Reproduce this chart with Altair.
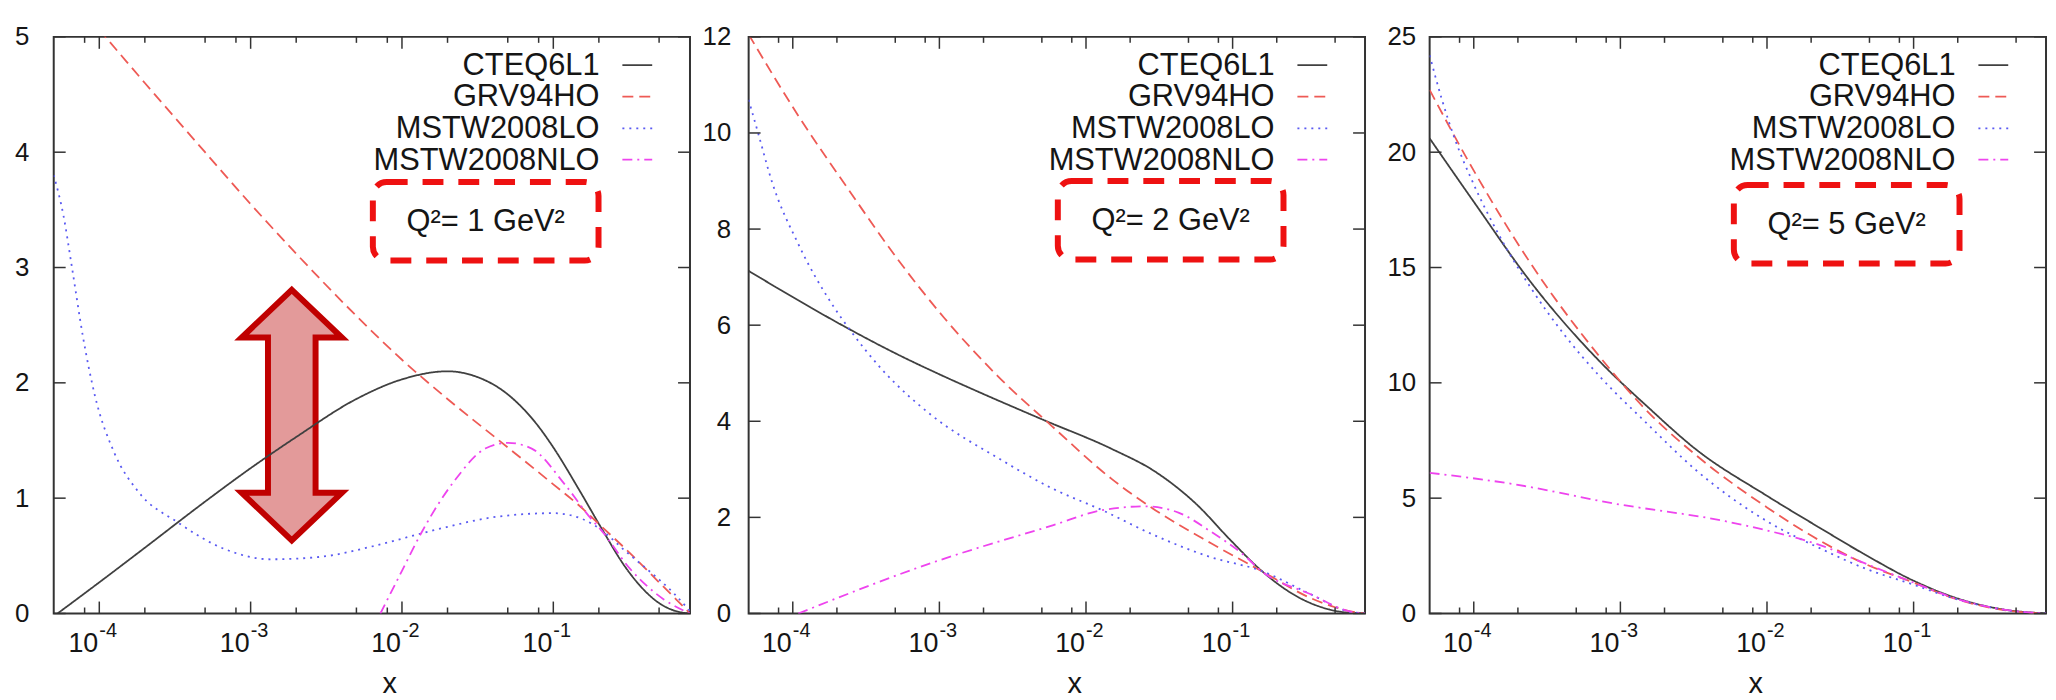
import altair as alt
import pandas as pd

# ---------------- data ----------------
SERIES = ["CTEQ6L1", "GRV94HO", "MSTW2008LO", "MSTW2008NLO"]
COLORS = ["#404040", "#ee5a55", "#5a5af2", "#ee44ee"]
DASHES = [[1, 0], [11, 6], [2, 5], [10, 5, 2, 5]]

X_DOMAIN = [5e-5, 0.8]
X_MAJOR = [1e-4, 1e-3, 1e-2, 1e-1]
X_EXP = ["-4", "-3", "-2", "-1"]
X_MINOR = [8e-5, 2e-4, 5e-4, 8e-4, 2e-3, 5e-3, 8e-3, 2e-2, 5e-2, 8e-2, 0.2, 0.5]

Y_MAX = [5, 12, 25]
Y_TICKS = [[0, 1, 2, 3, 4, 5], [0, 2, 4, 6, 8, 10, 12], [0, 5, 10, 15, 20, 25]]
Q2_LABELS = ["Q²= 1 GeV²", "Q²= 2 GeV²", "Q²= 5 GeV²"]

# Panel 1 : Q^2 = 1 GeV^2
P1_CTEQ_X = [5.3e-5, 1e-4, 2e-4, 5e-4, 1e-3, 2e-3, 5e-3, 1e-2, 2e-2, 3e-2, 5e-2, 8e-2, 0.1, 0.15, 0.21, 0.3, 0.4, 0.5, 0.6, 0.7, 0.8]
P1_CTEQ_Y = [0.0, 0.27, 0.57, 0.97, 1.26, 1.53, 1.86, 2.03, 2.10, 2.06, 1.90, 1.62, 1.44, 1.06, 0.73, 0.40, 0.20, 0.09, 0.035, 0.01, 0.0]
P1_GRV_X = [5e-5, 1e-4, 2e-4, 5e-4, 1e-3, 2e-3, 5e-3, 1e-2, 2e-2, 5e-2, 0.1, 0.15, 0.21, 0.3, 0.5, 0.65, 0.8]
P1_GRV_Y = [5.5, 5.06, 4.6, 4.0, 3.55, 3.12, 2.58, 2.20, 1.86, 1.44, 1.12, 0.93, 0.75, 0.56, 0.27, 0.12, 0.0]
P1_LO_X = [5e-5, 5.8e-5, 6.6e-5, 7.8e-5, 9.35e-5, 1.26e-4, 1.8e-4, 3.3e-4, 6.7e-4, 1.35e-3, 2.85e-3, 6.75e-3, 1.6e-2, 4.3e-2, 0.1, 0.155, 0.205, 0.3, 0.42, 0.62, 0.8]
P1_LO_Y = [3.8, 3.45, 3.0, 2.4, 1.89, 1.39, 1.06, 0.79, 0.56, 0.47, 0.49, 0.59, 0.72, 0.84, 0.87, 0.82, 0.73, 0.54, 0.38, 0.18, 0.02]
P1_NLO_X = [7.2e-3, 1.0e-2, 1.37e-2, 2.25e-2, 3.55e-2, 5.0e-2, 7.2e-2, 0.119, 0.178, 0.205, 0.325, 0.54, 0.8]
P1_NLO_Y = [0.0, 0.37, 0.72, 1.16, 1.43, 1.48, 1.43, 1.12, 0.82, 0.73, 0.38, 0.12, 0.0]

# Panel 2 : Q^2 = 2 GeV^2
P2_CTEQ_X = [5e-5, 8.4e-5, 2.26e-4, 5.2e-4, 9.8e-4, 1.92e-3, 5.2e-3, 1.51e-2, 2.97e-2, 5.55e-2, 9.86e-2, 0.156, 0.284, 0.454, 0.6, 0.8]
P2_CTEQ_Y = [7.13, 6.72, 5.97, 5.39, 4.99, 4.59, 4.02, 3.42, 2.95, 2.30, 1.50, 0.90, 0.33, 0.085, 0.02, 0.0]
P2_GRV_X = [5e-5, 1.09e-4, 2.39e-4, 5.2e-4, 1.08e-3, 2.5e-3, 5.9e-3, 1.51e-2, 2.97e-2, 7.13e-2, 0.156, 0.341, 0.5, 0.65, 0.8]
P2_GRV_Y = [12.05, 10.36, 8.83, 7.37, 6.15, 4.94, 3.89, 2.79, 2.15, 1.46, 0.89, 0.32, 0.13, 0.04, 0.0]
P2_LO_X = [5e-5, 5.8e-5, 7.2e-5, 1.09e-4, 1.84e-4, 2.39e-4, 4.0e-4, 8.8e-4, 2.5e-3, 6.0e-3, 1.29e-2, 2.97e-2, 7.13e-2, 0.156, 0.341, 0.62, 0.8]
P2_LO_Y = [10.69, 10.0, 8.99, 7.69, 6.45, 5.95, 5.10, 4.13, 3.24, 2.59, 2.15, 1.62, 1.17, 0.89, 0.40, 0.04, 0.0]
P2_NLO_X = [1.09e-4, 8.8e-4, 6.0e-3, 1.29e-2, 2.53e-2, 4.27e-2, 7.13e-2, 0.12, 0.156, 0.341, 0.62, 0.8]
P2_NLO_Y = [0.0, 1.05, 1.84, 2.15, 2.23, 2.10, 1.70, 1.21, 0.89, 0.40, 0.05, 0.0]

# Panel 3 : Q^2 = 5 GeV^2
P3_CTEQ_X = [5e-5, 1e-4, 2.46e-4, 7.3e-4, 1.51e-3, 3.3e-3, 1e-2, 2.38e-2, 4.67e-2, 0.1, 0.189, 0.413, 0.8]
P3_CTEQ_Y = [20.6, 17.85, 14.35, 10.9, 9.0, 7.1, 5.1, 3.65, 2.55, 1.42, 0.70, 0.17, 0.0]
P3_GRV_X = [5e-5, 1e-4, 2.46e-4, 7.3e-4, 1.51e-3, 3.3e-3, 1e-2, 2.38e-2, 4.67e-2, 0.1, 0.189, 0.413, 0.8]
P3_GRV_Y = [22.7, 19.2, 15.15, 11.1, 8.8, 6.85, 4.6, 3.1, 2.15, 1.34, 0.65, 0.15, 0.0]
P3_LO_X = [5e-5, 6.05e-5, 7.4e-5, 1e-4, 1.46e-4, 2.46e-4, 4.13e-4, 7.3e-4, 1.51e-3, 3.3e-3, 1e-2, 2.38e-2, 4.67e-2, 0.1, 0.189, 0.413, 0.8]
P3_LO_Y = [24.2, 22.3, 20.6, 18.6, 16.5, 14.1, 12.1, 10.25, 8.25, 6.2, 4.0, 2.78, 1.95, 1.25, 0.65, 0.16, 0.0]
P3_NLO_X = [5e-5, 1.9e-4, 9e-4, 5.2e-3, 1e-2, 2.38e-2, 4.67e-2, 0.1, 0.189, 0.413, 0.8]
P3_NLO_Y = [6.10, 5.60, 4.77, 4.0, 3.60, 2.93, 2.17, 1.34, 0.67, 0.17, 0.0]

# Double arrow annotation (panel 1), anchored in data coordinates
ARROW_X = [1.87e-3]
ARROW_Y = [1.72]

CURVES = [
    [(P1_CTEQ_X, P1_CTEQ_Y), (P1_GRV_X, P1_GRV_Y), (P1_LO_X, P1_LO_Y), (P1_NLO_X, P1_NLO_Y)],
    [(P2_CTEQ_X, P2_CTEQ_Y), (P2_GRV_X, P2_GRV_Y), (P2_LO_X, P2_LO_Y), (P2_NLO_X, P2_NLO_Y)],
    [(P3_CTEQ_X, P3_CTEQ_Y), (P3_GRV_X, P3_GRV_Y), (P3_LO_X, P3_LO_Y), (P3_NLO_X, P3_NLO_Y)],
]

# ---------------- styling / layout ----------------
FONT = "Liberation Sans"
TXT = "#151515"
FRAME = "#333333"
BOX_RED = "#ee1111"
WIDTHS = [640, 620, 620]
HEIGHT = 580
LABEL_PAD = [25, 18, 14]
EXTENT = [41, 48, 54]
BOX_RIGHT = [92, 82, 87]
BOX_TOP = [146, 145, 149]
BOX_W = 227
BOX_H = 79
LEG_ROWS = [28.5, 60, 92, 123.5]
TICK_MAJ = 12
TICK_MIN = 6
ARROW_PATH = ("M0,-1L0.4,-0.62L0.19,-0.62L0.19,0.62L0.4,0.62L0,1"
              "L-0.4,0.62L-0.19,0.62L-0.19,-0.62L-0.4,-0.62Z")


def make_panel(i):
    W, H = WIDTHS[i], HEIGHT
    xs = alt.Scale(type="log", domain=X_DOMAIN, nice=False)
    ys = alt.Scale(domain=[0, Y_MAX[i]], nice=False, zero=False)
    yaxis = alt.Axis(
        values=Y_TICKS[i], ticks=False, domain=False, grid=False,
        labelPadding=LABEL_PAD[i], minExtent=EXTENT[i], maxExtent=EXTENT[i],
        title=None, labelFontSize=26, labelFont=FONT, labelColor=TXT,
        labelFlush=False, labelOverlap=False, format="d")

    rows = []
    for name, (xv, yv) in zip(SERIES, CURVES[i]):
        for a, b in zip(xv, yv):
            rows.append({"series": name, "x": a, "y": b})
    df = pd.DataFrame(rows)

    layers = []
    if i == 0:
        arrow = alt.Chart(pd.DataFrame({"x": ARROW_X, "y": ARROW_Y})).mark_point(
            shape=ARROW_PATH, size=63504, filled=True, fill="#e39a9a",
            stroke="#c00000", strokeWidth=6, opacity=1,
        ).encode(
            x=alt.X("x:Q", scale=xs, axis=None),
            y=alt.Y("y:Q", scale=ys, axis=yaxis),
        )
        layers.append(arrow)

    lines = alt.Chart(df).mark_line(clip=True, strokeWidth=1.8, interpolate="monotone").encode(
        x=alt.X("x:Q", scale=xs, axis=None),
        y=alt.Y("y:Q", scale=ys, axis=yaxis),
        color=alt.Color("series:N", scale=alt.Scale(domain=SERIES, range=COLORS), legend=None),
        strokeDash=alt.StrokeDash("series:N", scale=alt.Scale(domain=SERIES, range=DASHES), legend=None),
    )
    layers.append(lines)

    ytdf = pd.DataFrame({"y": Y_TICKS[i]})
    for x0, x1 in [(0, TICK_MAJ), (W - TICK_MAJ, W)]:
        layers.append(alt.Chart(ytdf).mark_rule(color=FRAME, strokeWidth=1.5).encode(
            y=alt.Y("y:Q", scale=ys, axis=yaxis), x=alt.value(x0), x2=alt.value(x1)))

    majdf = pd.DataFrame({"x": X_MAJOR, "e": X_EXP})
    mindf = pd.DataFrame({"x": X_MINOR})
    for d, ln in [(majdf, TICK_MAJ), (mindf, TICK_MIN)]:
        for y0, y1 in [(H, H - ln), (0, ln)]:
            layers.append(alt.Chart(d).mark_rule(color=FRAME, strokeWidth=1.5).encode(
                x=alt.X("x:Q", scale=xs, axis=None), y=alt.value(y0), y2=alt.value(y1)))

    layers.append(alt.Chart(majdf).mark_text(
        align="right", baseline="alphabetic", fontSize=27, font=FONT, color=TXT, dx=-1
    ).encode(x=alt.X("x:Q", scale=xs, axis=None), y=alt.value(H + 39), text=alt.value("10")))
    layers.append(alt.Chart(majdf).mark_text(
        align="left", baseline="alphabetic", fontSize=20, font=FONT, color=TXT, dx=0
    ).encode(x=alt.X("x:Q", scale=xs, axis=None), y=alt.value(H + 24), text="e:N"))

    layers.append(alt.Chart(pd.DataFrame({"t": ["x"]})).mark_text(
        align="center", baseline="alphabetic", fontSize=29, font=FONT, color=TXT
    ).encode(x=alt.value(W / 2 + 18), y=alt.value(H + 80), text="t:N"))

    bx2 = W - BOX_RIGHT[i]
    bx1 = bx2 - BOX_W
    by1 = BOX_TOP[i]
    by2 = by1 + BOX_H
    qdf = pd.DataFrame({"t": [Q2_LABELS[i]]})
    layers.append(alt.Chart(qdf).mark_rect(
        stroke=BOX_RED, strokeWidth=6, strokeDash=[21, 15], cornerRadius=14, fillOpacity=0, fill="white"
    ).encode(x=alt.value(bx1), x2=alt.value(bx2), y=alt.value(by1), y2=alt.value(by2)))
    layers.append(alt.Chart(qdf).mark_text(
        align="center", baseline="middle", fontSize=31, font=FONT, color=TXT
    ).encode(x=alt.value((bx1 + bx2) / 2), y=alt.value((by1 + by2) / 2 + 1), text="t:N"))

    for k, name in enumerate(SERIES):
        ldf = pd.DataFrame({"t": [name]})
        layers.append(alt.Chart(ldf).mark_text(
            align="right", baseline="middle", fontSize=31, font=FONT, color=TXT
        ).encode(x=alt.value(W - 91), y=alt.value(LEG_ROWS[k] + 1), text="t:N"))
        layers.append(alt.Chart(ldf).mark_rule(
            color=COLORS[k], strokeDash=DASHES[k], strokeWidth=1.8
        ).encode(x=alt.value(W - 68), x2=alt.value(W - 38), y=alt.value(LEG_ROWS[k])))

    return alt.layer(*layers).properties(width=W, height=H)


chart = alt.hconcat(make_panel(0), make_panel(1), make_panel(2), spacing=8).properties(
    padding={"left": 4, "top": 13, "right": 0, "bottom": 0}
).configure_view(stroke=FRAME, strokeWidth=2)

chart.save("out.html", embed_options={"renderer": "svg", "actions": False})
